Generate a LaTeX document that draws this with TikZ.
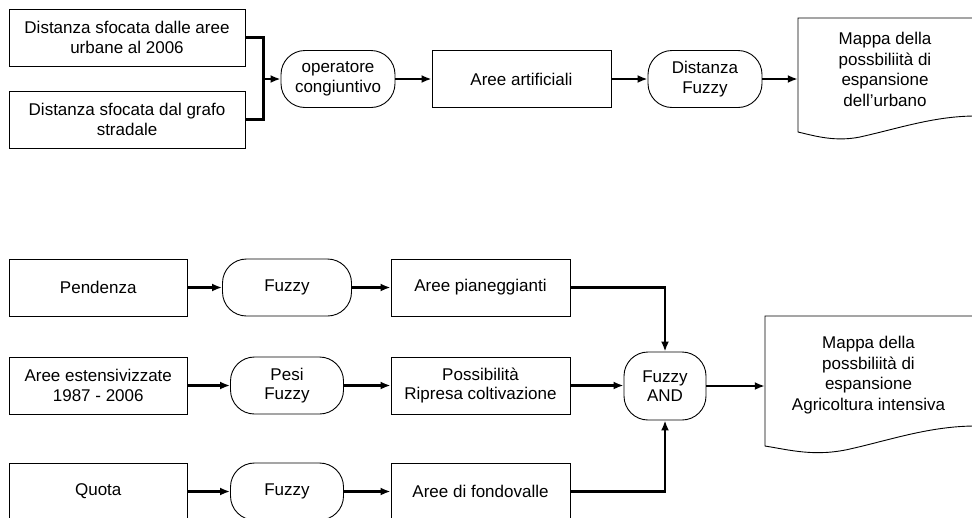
\documentclass[tikz,border=0pt]{standalone}
\usepackage{fontspec}
\setmainfont{Liberation Sans}
\usetikzlibrary{arrows.meta,shapes,calc,positioning}

\begin{document}
\begin{tikzpicture}[x=1pt, y=-1pt,
  txt/.style={font=\fontsize{17}{19.5}\selectfont, align=center, inner sep=0pt},
  box/.style={txt, draw, line width=0.9pt, minimum width=178.5pt, minimum height=57pt},
  rbox/.style={txt, draw, line width=0.9pt, rounded corners=24pt, minimum height=57pt},
  doc/.style={txt, font=\fontsize{17}{20.8}\selectfont},
  arr/.style={-{Latex[length=10pt,width=8pt]}, line width=2.4pt}]

 \useasboundingbox (0,0) rectangle (972,517);

 %top chain
 \node[box, minimum width=236pt] (A1) at (127,37.5) {Distanza sfocata dalle aree\\urbane al 2006};
 \node[box, minimum width=236pt] (A2) at (127,119.5) {Distanza sfocata dal grafo\\stradale};
 \node[rbox, minimum width=114pt] (OP) at (338,79) {operatore\\congiuntivo};
 \node[box, minimum width=179pt] (AA) at (521.5,79) {Aree artificiali};
 \node[rbox, minimum width=114pt] (DF) at (705,79) {Distanza\\Fuzzy};
 \node[doc, minimum width=174pt] (M1) at (885,69.5) {Mappa della\\possbiliità di\\espansione\\dell’urbano};
 \draw[line width=0.9pt] (798,18) -- (976,18) -- (976,116)
    .. controls (935,116) and (900,128) .. (860,137)
    .. controls (835,142) and (815,136) .. (798,132) -- cycle;

 \coordinate (J) at (263,79);
 \draw[line width=3pt] (A1.east) -| (J) |- (A2.east);
 \draw[arr] (J) -- (OP);
 \draw[arr] (OP) -- (AA);
 \draw[arr] (AA) -- (DF);
 \draw[arr] (DF) -- (DF -| M1.west);

 %bottom chain
 \foreach \i/\y/\src/\op/\w/\res in {
    1/287.5/Pendenza/Fuzzy/129/Aree pianeggianti,
    2/385.5/{Aree estensivizzate\\1987 - 2006}/{Pesi\\Fuzzy}/113/{Possibilità\\Ripresa coltivazione},
    3/491.5/Quota/Fuzzy/113/Aree di fondovalle} {
         \node[box] (S\i) at (98.25,\y) {\src};
         \node[rbox, minimum width=\w pt] (F\i) at (287,\y) {\op};
         \node[box, minimum width=179pt] (R\i) at (480.5,\y) {\res};
         \draw[arr] (S\i) -- (F\i);
         \draw[arr] (F\i) -- (R\i);
 }

 \node[rbox, minimum width=82pt, minimum height=68pt] (AND) at (665,386) {Fuzzy\\AND};
 \node[doc, minimum width=207pt] (M2) at (868.5,375) {Mappa della\\possbiliità di\\espansione\\Agricoltura intensiva};
 \draw[line width=0.9pt] (765,316) -- (976,316) -- (976,426)
    .. controls (930,426) and (890,440) .. (850,449)
    .. controls (815,457) and (790,450) .. (765,446) -- cycle;

 \draw[arr] (R1) -| (AND);
 \draw[arr] (R2) -- (R2 -| AND.west);
 \draw[arr] (R3) -| (AND);
 \draw[arr] (AND) -- (AND -| M2.west);

\end{tikzpicture}
\end{document}
